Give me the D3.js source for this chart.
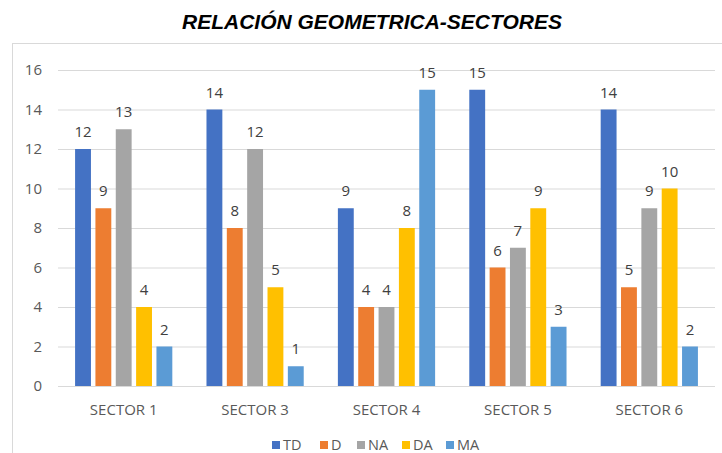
<!DOCTYPE html>
<html>
<head>
<meta charset="utf-8">
<script src="https://cdn.jsdelivr.net/npm/d3@7"></script>
<style>
  body { margin: 0; background: #fff; }
  svg { display: block; }
</style>
</head>
<body>
<script>
// chart data
var sectors = ["SECTOR 1", "SECTOR 3", "SECTOR 4", "SECTOR 5", "SECTOR 6"];
var series = ["TD", "D", "NA", "DA", "MA"];
var TD = [12, 14, 9, 15, 14];
var D  = [9, 8, 4, 6, 5];
var NA = [13, 12, 4, 7, 9];
var DA = [4, 5, 8, 9, 10];
var MA = [2, 1, 15, 3, 2];
var yTicks = [0, 2, 4, 6, 8, 10, 12, 14, 16];
var colors = ["#4472C4", "#ED7D31", "#A5A5A5", "#FFC000", "#5B9BD5"];

var valuesBySeries = [TD, D, NA, DA, MA];

var W = 722, H = 453;
var dim = { left: 58, right: 715, top: 70, bottom: 386 };

var svg = d3.select("body").append("svg")
  .attr("width", W)
  .attr("height", H);

// title
svg.append("text")
  .attr("x", 372)
  .attr("y", 29)
  .attr("text-anchor", "middle")
  .style("font-family", "'Liberation Sans', Arial, sans-serif")
  .style("font-size", "21px")
  .style("font-weight", "bold")
  .style("font-style", "italic")
  .attr("fill", "#000")
  .text("RELACIÓN GEOMETRICA-SECTORES");

// chart frame
svg.append("rect")
  .attr("x", 12.5)
  .attr("y", 43.5)
  .attr("width", 720)
  .attr("height", 430)
  .attr("fill", "none")
  .attr("stroke", "#d9d9d9")
  .attr("stroke-width", 1);

var x0 = d3.scaleBand()
  .domain(sectors)
  .range([dim.left, dim.right])
  .paddingInner(0.26)
  .paddingOuter(0.13);

var x1 = d3.scaleBand()
  .domain(series)
  .range([0, x0.bandwidth()])
  .paddingInner(0.22);

var y = d3.scaleLinear()
  .domain([0, 16])
  .range([dim.bottom, dim.top]);

var font = "'Open Sans', 'Noto Sans', sans-serif";

// gridlines + y labels
var yAxis = d3.axisLeft(y)
  .tickValues(yTicks)
  .tickSize(-(dim.right - dim.left))
  .tickPadding(16);

var gy = svg.append("g")
  .attr("transform", "translate(" + dim.left + ",0)")
  .call(yAxis);
gy.select(".domain").remove();
gy.selectAll(".tick line").attr("stroke", "#d9d9d9");
gy.selectAll(".tick text")
  .attr("fill", "#595959")
  .style("font-family", font)
  .style("font-size", "15px");

// bars
var groups = svg.append("g").selectAll("g")
  .data(sectors)
  .enter()
  .append("g")
  .attr("transform", function(d) { return "translate(" + x0(d) + ",0)"; });

groups.selectAll("rect")
  .data(function(d, i) {
    return series.map(function(s, j) { return { s: s, v: valuesBySeries[j][i], c: colors[j] }; });
  })
  .enter()
  .append("rect")
  .attr("x", function(d) { return x1(d.s); })
  .attr("y", function(d) { return y(d.v); })
  .attr("width", x1.bandwidth())
  .attr("height", function(d) { return y(0) - y(d.v); })
  .attr("fill", function(d) { return d.c; });

// value labels
groups.selectAll("text")
  .data(function(d, i) {
    return series.map(function(s, j) { return { s: s, v: valuesBySeries[j][i] }; });
  })
  .enter()
  .append("text")
  .attr("x", function(d) { return x1(d.s) + x1.bandwidth() / 2; })
  .attr("y", function(d) { return y(d.v) - 12; })
  .attr("text-anchor", "middle")
  .attr("fill", "#404040")
  .style("font-family", font)
  .style("font-size", "15px")
  .text(function(d) { return d.v; });

// x axis line + labels
svg.append("line")
  .attr("x1", dim.left)
  .attr("x2", dim.right)
  .attr("y1", y(0) + 0.5)
  .attr("y2", y(0) + 0.5)
  .attr("stroke", "#d9d9d9");

var xAxis = d3.axisBottom(x0).tickSize(0).tickPadding(18);
var gx = svg.append("g")
  .attr("transform", "translate(0," + dim.bottom + ")")
  .call(xAxis);
gx.select(".domain").remove();
gx.selectAll(".tick text")
  .attr("fill", "#595959")
  .style("font-family", font)
  .style("font-size", "15px");

// legend
var legend = svg.append("g")
  .attr("transform", "translate(272,450)");
var legendX = [0, 48, 85, 130, 174];
var items = legend.selectAll("g")
  .data(series)
  .enter()
  .append("g")
  .attr("transform", function(d, i) { return "translate(" + legendX[i] + ",0)"; });
items.append("rect")
  .attr("x", 0)
  .attr("y", -9)
  .attr("width", 8)
  .attr("height", 8)
  .attr("fill", function(d, i) { return colors[i]; });
items.append("text")
  .attr("x", 11)
  .attr("y", 0)
  .attr("fill", "#595959")
  .style("font-family", font)
  .style("font-size", "14.5px")
  .text(function(d) { return d; });
</script>
</body>
</html>
